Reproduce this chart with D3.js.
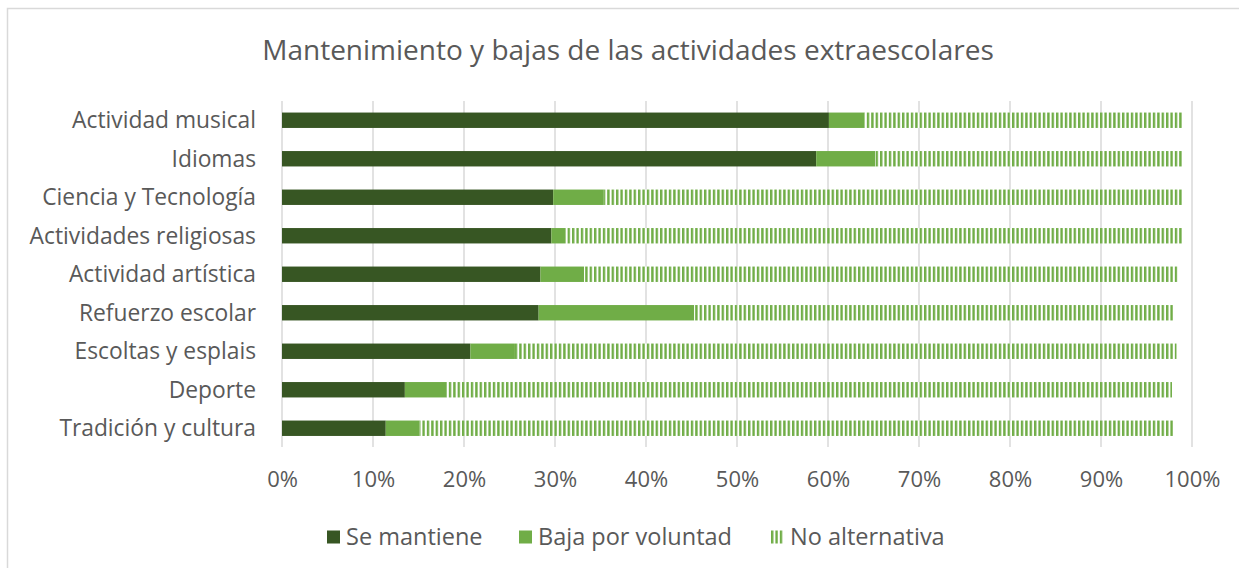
<!DOCTYPE html>
<html>
<head>
<meta charset="utf-8">
<script src="https://cdn.jsdelivr.net/npm/d3@7"></script>
<style>
  body { margin: 0; background: #fff; }
  text { font-family: "Open Sans", Lato, sans-serif; fill: #595959; }
</style>
</head>
<body>
<script>
var categories = ["Actividad musical", "Idiomas", "Ciencia y Tecnología", "Actividades religiosas",
  "Actividad artística", "Refuerzo escolar", "Escoltas y esplais", "Deporte", "Tradición y cultura"];
var seMantiene   = [60.1, 58.7, 29.8, 29.6, 28.4, 28.2, 20.7, 13.5, 11.4];
var bajaVoluntad = [3.9, 6.5, 5.5, 1.5, 4.8, 17.1, 4.9, 4.6, 3.7];
var noAlternativa = [34.9, 33.7, 63.6, 67.8, 65.2, 52.7, 72.7, 79.7, 82.9];
var seriesNames = ["Se mantiene", "Baja por voluntad", "No alternativa"];
var tickValues = [0, 10, 20, 30, 40, 50, 60, 70, 80, 90, 100];

var width = 1239, height = 568;
var margin = {top: 101, right: 47, bottom: 121, left: 282};

var svg = d3.select("body").append("svg")
  .attr("width", width)
  .attr("height", height);

var defs = svg.append("defs");
var pat = defs.append("pattern")
  .attr("id", "vert")
  .attr("patternUnits", "userSpaceOnUse")
  .attr("width", 4.4)
  .attr("height", 10);
pat.append("rect").attr("width", 4.4).attr("height", 10).attr("fill", "#fff");
pat.append("rect").attr("width", 2.4).attr("height", 10).attr("fill", "#70ad47");

// chart border
svg.append("rect")
  .attr("x", 7.5).attr("y", 8.5)
  .attr("width", width + 20).attr("height", height + 20)
  .attr("fill", "none")
  .attr("stroke", "#d9d9d9")
  .attr("stroke-width", 1.5);

var x = d3.scaleLinear()
  .domain([0, 100])
  .range([margin.left, width - margin.right]);

var y = d3.scaleBand()
  .domain(categories)
  .range([margin.top, height - margin.bottom + 0.5])
  .paddingInner(0.6)
  .paddingOuter(0.3);

// gridlines
svg.append("g")
  .selectAll("line")
  .data(tickValues)
  .enter().append("line")
  .attr("x1", d => x(d)).attr("x2", d => x(d))
  .attr("y1", margin.top).attr("y2", height - margin.bottom)
  .attr("stroke", "#d9d9d9")
  .attr("stroke-width", 1.5);

var rows = categories.map((c, i) => ({cat: c, vals: [seMantiene[i], bajaVoluntad[i], noAlternativa[i]]}));
var stack = d3.stack().keys([0, 1, 2]).value((d, k) => d.vals[k]);
var layers = stack(rows);
var fills = ["#375623", "#70ad47", "url(#vert)"];

svg.append("g")
  .selectAll("g")
  .data(layers)
  .enter().append("g")
  .attr("fill", (d, i) => fills[i])
  .selectAll("rect")
  .data(d => d)
  .enter().append("rect")
  .attr("x", d => x(d[0]))
  .attr("y", d => y(d.data.cat))
  .attr("width", d => x(d[1]) - x(d[0]))
  .attr("height", y.bandwidth());

// category labels
svg.append("g")
  .selectAll("text")
  .data(categories)
  .enter().append("text")
  .attr("x", 256)
  .attr("y", d => y(d) + y.bandwidth() / 2 + 8)
  .attr("text-anchor", "end")
  .style("font-size", "22.8px")
  .text(d => d);

// x tick labels
var xAxis = d3.axisBottom(x)
  .tickValues(tickValues)
  .tickFormat(d => d + "%")
  .tickSize(0)
  .tickPadding(0);
var ax = svg.append("g")
  .attr("transform", "translate(0,487)")
  .call(xAxis);
ax.select(".domain").remove();
ax.selectAll("text")
  .attr("dy", 0)
  .style("font-size", "22px")
  .style("font-family", "'Open Sans', Lato, sans-serif")
  .attr("fill", "#595959");

// title
svg.append("text")
  .attr("x", 628)
  .attr("y", 60)
  .attr("text-anchor", "middle")
  .style("font-size", "28px")
  .text("Mantenimiento y bajas de las actividades extraescolares");

// legend
var legendX = [327, 519, 771];
var lg = svg.append("g")
  .selectAll("g")
  .data(seriesNames)
  .enter().append("g")
  .attr("transform", (d, i) => "translate(" + legendX[i] + ",530.5)");
lg.append("rect")
  .attr("width", 13).attr("height", 13)
  .attr("fill", (d, i) => fills[i]);
lg.append("text")
  .attr("x", 19)
  .attr("y", 14.5)
  .style("font-size", "23.5px")
  .text(d => d);
</script>
</body>
</html>
